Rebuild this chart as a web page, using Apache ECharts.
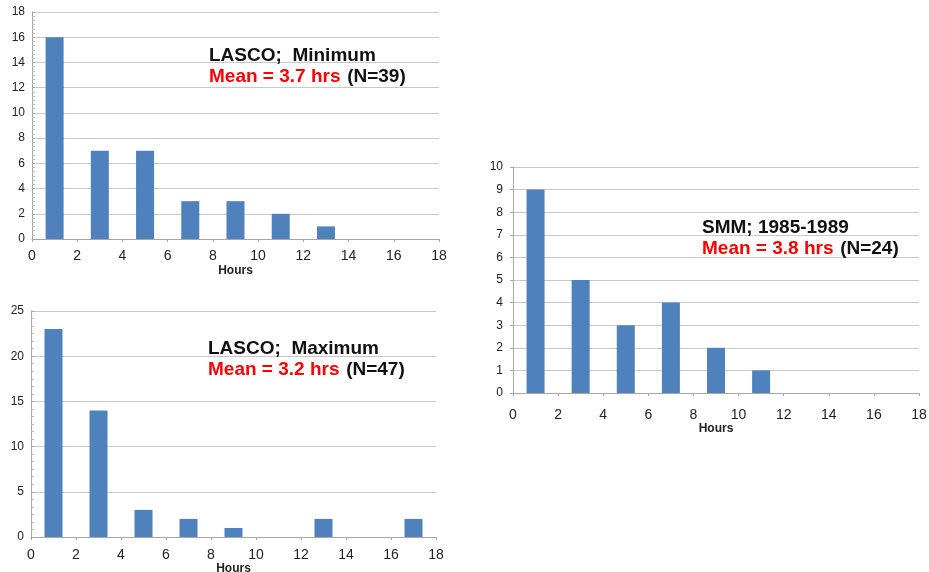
<!DOCTYPE html>
<html>
<head>
<meta charset="utf-8">
<script src="https://cdn.jsdelivr.net/npm/echarts@6/dist/echarts.min.js"></script>
<style>html,body{margin:0;padding:0;background:#fff}#c{width:929px;height:572px}</style>
</head>
<body>
<div id="c"></div>
<script>
// Bin centres (hours)
const binCenters = [1, 3, 5, 7, 9, 11, 13, 15, 17];
// Counts per bin
const lascoMinCounts = [16, 7, 7, 3, 3, 2, 1, 0, 0];
const lascoMaxCounts = [23, 14, 3, 2, 1, 0, 2, 0, 2];
const smmCounts = [9, 5, 3, 4, 2, 1, 0, 0, 0];
// Axis settings
const xTicks = [0, 2, 4, 6, 8, 10, 12, 14, 16, 18];
const axisTitle = 'Hours';
const titles = ['LASCO;  Minimum', 'LASCO;  Maximum', 'SMM; 1985-1989'];
const means = ['Mean = 3.7 hrs', 'Mean = 3.2 hrs', 'Mean = 3.8 hrs'];
const counts = ['(N=39)', '(N=47)', '(N=24)'];

const pair = arr => binCenters.map((x, i) => [x, arr[i]]);
const barColor = '#4F81BD';
const font = 'Liberation Sans, Arial, sans-serif';

function xAx(gi, nameGap, labelMargin) {
  return {
    type: 'value', gridIndex: gi, min: xTicks[0], max: xTicks[xTicks.length - 1], interval: xTicks[1] - xTicks[0],
    name: axisTitle, nameLocation: 'middle', nameGap: nameGap,
    nameTextStyle: {fontFamily: font, fontWeight: 'bold', fontSize: 12, color: '#222'},
    axisLine: {show: true, lineStyle: {color: '#a6a6a6'}},
    axisTick: {show: true, length: 3, lineStyle: {color: '#a6a6a6'}},
    axisLabel: {fontFamily: font, fontSize: 14, color: '#222', margin: labelMargin, showMinLabel: true, showMaxLabel: true},
    splitLine: {show: false}
  };
}
function yAx(gi, max, interval, minor, margin, fs) {
  return {
    type: 'value', gridIndex: gi, min: 0, max: max, interval: interval,
    axisLine: {show: true, lineStyle: {color: '#a6a6a6'}},
    axisTick: {show: true, inside: minor, length: 3, lineStyle: {color: '#a6a6a6'}},
    minorTick: {show: minor, splitNumber: 6, length: 3, lineStyle: {color: '#bfbfbf'}},
    axisLabel: {fontFamily: font, fontSize: fs, color: '#222', margin: margin},
    splitLine: {show: true, lineStyle: {color: '#c8c8c8', width: 1}}
  };
}
function annot(x, y, i) {
  return [
    {type: 'text', z: 100, left: x, top: y, style: {text: titles[i], font: 'bold 19px ' + font, fill: '#111'}},
    {type: 'text', z: 100, left: x, top: y + 21, style: {
      text: '{r|' + means[i] + '}  {k|' + counts[i] + '}',
      rich: {r: {font: 'bold 19px ' + font, fill: '#ff0000'}, k: {font: 'bold 19px ' + font, fill: '#111'}}
    }}
  ];
}

const chart = echarts.init(document.getElementById('c'));
chart.setOption({
  animation: false,
  grid: [
    {left: 32, right: 490, top: 12, bottom: 333, outerBoundsMode: 'none', containLabel: false},
    {left: 31, right: 493, top: 311, bottom: 35, outerBoundsMode: 'none', containLabel: false},
    {left: 513, right: 10, top: 167, bottom: 179, outerBoundsMode: 'none', containLabel: false}
  ],
  xAxis: [xAx(0, 26, 10), xAx(1, 25, 11), xAx(2, 24, 15)],
  yAxis: [yAx(0, 18, 2, true, 7, 12), yAx(1, 25, 5, true, 7, 12), yAx(2, 10, 1, false, 10, 12)],
  series: [
    {type: 'bar', xAxisIndex: 0, yAxisIndex: 0, data: pair(lascoMinCounts), barWidth: 18, itemStyle: {color: barColor}},
    {type: 'bar', xAxisIndex: 1, yAxisIndex: 1, data: pair(lascoMaxCounts), barWidth: 18, itemStyle: {color: barColor}},
    {type: 'bar', xAxisIndex: 2, yAxisIndex: 2, data: pair(smmCounts), barWidth: 18, itemStyle: {color: barColor}}
  ],
  graphic: [].concat(annot(209, 46, 0), annot(208, 339, 1), annot(702, 218, 2))
});
</script>
</body>
</html>
